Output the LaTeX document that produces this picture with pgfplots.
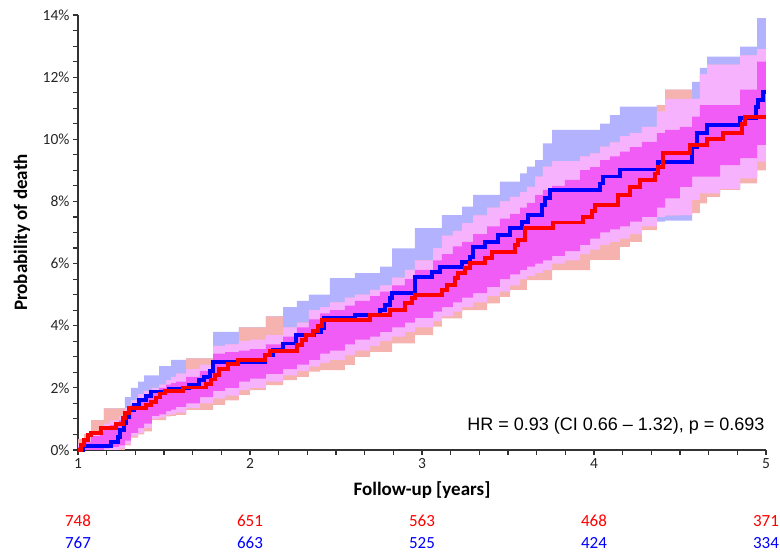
\documentclass[border=0pt]{standalone}
\usepackage{pgfplots}
\pgfplotsset{compat=1.18}
\usepackage{pgfplotstable}
\usepgfplotslibrary{fillbetween}
\usepackage{fontspec}
\setmainfont{Carlito}
\newfontfamily\arialf{Liberation Sans}

\definecolor{lav}{RGB}{178,178,255}
\definecolor{sal}{RGB}{245,178,174}
\definecolor{lpink}{RGB}{246,178,252}
\definecolor{mag}{RGB}{242,92,246}
\definecolor{kmred}{RGB}{255,0,0}
\definecolor{kmblue}{RGB}{0,0,255}
\definecolor{axgray}{RGB}{50,50,50}

% confidence regions: lavender (blue only), salmon (red only), pink (both), magenta (inner)
\pgfplotstableread{
x     lavlo lavhi sallo salhi pl   pu    ml   mu
1.000 0     0.35  0     0.35  0    0.2   0    0.1
1.035 0     0.5   0     0.5   0    0.35  0    0.25
1.076 0     0.96  0     0.96  0    0.55  0    0.45
1.128 0     0.96  0     0.96  0    0.75  0    0.6
1.151 0     1.34  0     1.34  0    0.85  0.05 0.7
1.186 0     1.34  0     1.34  0    0.95  0.1  0.8
1.238 0.05  1.34  0     1.34  0.05 1.1   0.15 0.95
1.273 0.2   1.7   0.15  1.35  0.2  1.35  0.3  1.2
1.308 0.45  2.0   0.4   1.6   0.45 1.6   0.55 1.45
1.349 0.55  2.2   0.5   1.8   0.55 1.8   0.7  1.65
1.384 0.7   2.4   0.6   1.9   0.7  1.9   0.85 1.8
1.430 1.0   2.4   0.96  2.0   1.0  2.0   1.1  1.9
1.471 1.05  2.7   0.96  2.1   1.05 2.1   1.15 2.0
1.512 1.13  2.7   1.08  2.25  1.13 2.25  1.25 2.1
1.541 1.15  2.9   1.1   2.35  1.15 2.35  1.3  2.15
1.570 1.2   2.9   1.13  2.46  1.2  2.46  1.39 2.2
1.628 1.35  2.95  1.29  2.95  1.35 2.6   1.5  2.35
1.709 1.5   2.95  1.29  2.95  1.5  2.75  1.7  2.55
1.785 1.65  3.8   1.45  3.35  1.65 3.35  1.9  3.1
1.855 1.75  3.8   1.6   3.4   1.75 3.4   2.0  3.15
1.936 1.93  3.95  1.77  3.95  1.93 3.5   2.2  3.2
2.000 2.0   3.95  1.93  3.95  2.0  3.55  2.3  3.25
2.093 2.2   4.3   2.09  4.3   2.2  3.7   2.45 3.4
2.192 2.4   4.6   2.25  3.95  2.4  3.95  2.6  3.65
2.273 2.55  4.8   2.35  4.1   2.55 4.1   2.75 3.95
2.343 2.68  5.0   2.52  4.5   2.68 4.5   2.9  4.2
2.407 2.8   5.0   2.57  4.6   2.8  4.6   3.1  4.4
2.465 2.9   5.53  2.57  4.75  2.9  4.75  3.2  4.5
2.552 3.05  5.53  2.74  4.9   3.05 4.9   3.4  4.65
2.610 3.2   5.69  3.0   5.0   3.2  5.0   3.55 4.8
2.698 3.35  5.69  3.16  5.15  3.35 5.15  3.65 4.95
2.756 3.5   5.9   3.16  5.3   3.5  5.3   3.8  5.1
2.826 3.65  6.49  3.43  5.55  3.65 5.55  3.95 5.3
2.901 3.8   6.49  3.43  5.8   3.8  5.8   4.1  5.5
2.959 3.95  7.14  3.7   6.1   3.95 6.1   4.25 5.8
3.064 4.15  7.14  3.97  6.5   4.15 6.5   4.45 6.1
3.116 4.3   7.56  4.24  6.9   4.3  6.9   4.6  6.3
3.180 4.45  7.56  4.24  7.05  4.45 7.05  4.75 6.55
3.233 4.6   7.83  4.5   7.3   4.6  7.3   4.9  6.7
3.297 4.75  8.21  4.5   7.55  4.75 7.55  5.05 6.95
3.378 4.95  8.21  4.72  7.8   4.95 7.8   5.25 7.2
3.453 5.1   8.64  4.93  8.0   5.1  8.0   5.5  7.45
3.512 5.3   8.64  5.15  8.15  5.3  8.15  5.65 7.6
3.570 5.5   8.9   5.15  8.3   5.5  8.3   5.8  7.8
3.610 5.6   9.12  5.47  8.47  5.6  8.47  5.9  7.95
3.657 5.7   9.33  5.47  8.8   5.7  8.8   6.0  8.2
3.703 5.8   9.87  5.47  9.12  5.8  9.12  6.1  8.37
3.756 6.0   10.3  5.79  9.3   6.0  9.3   6.25 8.5
3.831 6.1   10.3  5.79  9.3   6.1  9.3   6.4  8.69
3.919 6.3   10.3  5.79  9.45  6.3  9.45  6.6  9.01
3.977 6.45  10.3  6.12  9.55  6.45 9.55  6.8  9.1
4.035 6.6   10.5  6.12  9.76  6.6  9.76  7.0  9.33
4.093 6.7   10.78 6.12  9.9   6.7  9.9   7.1  9.45
4.151 6.8   11.05 6.54  10.1  6.8  10.1  7.2  9.6
4.209 6.95  11.05 6.7   10.2  6.95 10.2  7.35 9.75
4.279 7.2   11.05 7.08  10.4  7.2  10.4  7.5  9.92
4.366 7.35  11.1  7.5   11.1  7.5  10.9  7.8  10.2
4.413 7.38  11.6  7.55  11.6  7.55 11.3  8.1  10.3
4.500 7.38  11.6  7.56  11.6  7.56 11.3  8.47 10.4
4.570 8.05  11.85 7.62  11.3  8.05 11.3  8.8  10.73
4.616 8.26  12.3  7.94  12.1  8.26 12.1  8.8  11.1
4.657 8.26  12.66 8.15  12.4  8.26 12.4  8.8  11.1
4.733 8.4   12.66 8.37  12.4  8.4  12.4  9.17 11.1
4.849 8.74  12.98 8.58  12.7  8.74 12.7  9.39 11.6
4.948 9.28  13.9  9.0   12.9  9.28 12.9  9.82 12.5
5.000 9.28  13.9  9.0   12.9  9.28 12.9  9.82 12.5
}\bands

\pgfplotstableread{
x     y
1.000 0
1.029 0.12
1.192 0.27
1.233 0.43
1.244 0.64
1.267 0.86
1.279 1.07
1.297 1.28
1.326 1.45
1.355 1.61
1.395 1.73
1.424 1.88
1.529 1.98
1.645 2.10
1.703 2.25
1.733 2.36
1.767 2.55
1.785 2.84
2.087 3.06
2.134 3.22
2.192 3.43
2.267 3.70
2.372 3.81
2.413 3.91
2.430 4.24
2.610 4.35
2.756 4.51
2.785 4.67
2.814 4.89
2.826 5.04
2.959 5.58
3.058 5.74
3.105 5.88
3.233 6.06
3.279 6.22
3.297 6.54
3.366 6.70
3.442 6.92
3.512 7.14
3.581 7.35
3.616 7.56
3.698 7.89
3.715 8.10
3.744 8.37
4.035 8.58
4.052 8.80
4.151 9.03
4.372 9.28
4.570 9.76
4.599 10.19
4.657 10.47
4.849 10.69
4.942 11.05
4.953 11.26
4.983 11.53
5.000 11.53
}\blueline

\pgfplotstableread{
x     y
1.000 0
1.017 0.16
1.035 0.32
1.058 0.48
1.076 0.54
1.134 0.70
1.221 0.84
1.262 1.02
1.273 1.18
1.297 1.34
1.395 1.45
1.424 1.55
1.453 1.69
1.477 1.82
1.506 1.91
1.610 2.01
1.744 2.12
1.773 2.27
1.797 2.41
1.820 2.60
1.872 2.77
1.930 2.89
2.087 3.05
2.116 3.19
2.273 3.38
2.302 3.54
2.326 3.70
2.366 3.84
2.395 3.99
2.419 4.19
2.698 4.35
2.814 4.51
2.901 4.72
2.942 4.88
2.959 4.99
3.116 5.15
3.145 5.31
3.192 5.53
3.209 5.69
3.250 5.85
3.279 6.01
3.366 6.17
3.407 6.38
3.541 6.60
3.558 6.76
3.599 7.14
3.762 7.32
3.936 7.51
3.988 7.70
4.006 7.89
4.140 8.21
4.209 8.47
4.267 8.69
4.355 8.90
4.372 9.12
4.401 9.57
4.558 9.82
4.657 10.00
4.750 10.21
4.860 10.50
4.878 10.71
5.000 10.71
}\redline

\begin{document}
\begin{tikzpicture}
\begin{axis}[
  at={(0,0)}, anchor=south west,
  scale only axis, width=688pt, height=435pt,
  xmin=1, xmax=5, ymin=0, ymax=14,
  axis lines=left,
  axis line style={-, axgray, line width=1.1pt},
  tick style={axgray, line width=1.1pt},
  tick align=outside,
  major tick length=5pt, minor tick length=5pt,
  xtick={1,2,3,4,5}, xticklabels={1,2,3,4,5},
  minor x tick num=5,
  ytick={0,2,4,6,8,10,12,14},
  yticklabels={0\%,2\%,4\%,6\%,8\%,10\%,12\%,14\%},
  minor y tick num=3,
  ticklabel style={font=\fontsize{15.5}{18}\selectfont, text=black!85},
  label style={font=\bfseries\fontsize{19}{22}\selectfont},
  xlabel={Follow-up [years]},
  ylabel={Probability of death},
  xlabel style={at={([yshift=-40pt]axis description cs:0.5,0)}, anchor=center},
  ylabel style={at={([xshift=-56pt]axis description cs:0,0.5)}, anchor=center},
  clip=false,
]
% bands
\addplot[draw=none, const plot, name path=lavlo] table[x=x, y=lavlo]{\bands};
\addplot[draw=none, const plot, name path=lavhi] table[x=x, y=lavhi]{\bands};
\addplot[draw=none, const plot, name path=sallo] table[x=x, y=sallo]{\bands};
\addplot[draw=none, const plot, name path=salhi] table[x=x, y=salhi]{\bands};
\addplot[draw=none, const plot, name path=pl] table[x=x, y=pl]{\bands};
\addplot[draw=none, const plot, name path=pu] table[x=x, y=pu]{\bands};
\addplot[draw=none, const plot, name path=ml] table[x=x, y=ml]{\bands};
\addplot[draw=none, const plot, name path=mu] table[x=x, y=mu]{\bands};
\addplot[fill=lav, draw=none] fill between[of=lavhi and lavlo];
\addplot[fill=sal, draw=none] fill between[of=salhi and sallo];
\addplot[fill=lpink, draw=none] fill between[of=pu and pl];
\addplot[fill=mag, draw=none] fill between[of=mu and ml];
% survival curves
\addplot[kmblue, line width=3.8pt, const plot] table[x=x, y=y]{\blueline};
\addplot[kmred, line width=3.8pt, const plot] table[x=x, y=y]{\redline};

\node[anchor=east, font=\arialf\fontsize{18}{20}\selectfont] at ([xshift=2pt]axis cs:5,0.77) {HR = 0.93 (CI 0.66 – 1.32), p = 0.693};

% numbers at risk
\node[text=kmred, font=\fontsize{17}{19}\selectfont] at ([yshift=-71pt]axis cs:1,0) {748};
\node[text=kmred, font=\fontsize{17}{19}\selectfont] at ([yshift=-71pt]axis cs:2,0) {651};
\node[text=kmred, font=\fontsize{17}{19}\selectfont] at ([yshift=-71pt]axis cs:3,0) {563};
\node[text=kmred, font=\fontsize{17}{19}\selectfont] at ([yshift=-71pt]axis cs:4,0) {468};
\node[text=kmred, font=\fontsize{17}{19}\selectfont] at ([yshift=-71pt]axis cs:5,0) {371};
\node[text=kmblue, font=\fontsize{17}{19}\selectfont] at ([yshift=-93pt]axis cs:1,0) {767};
\node[text=kmblue, font=\fontsize{17}{19}\selectfont] at ([yshift=-93pt]axis cs:2,0) {663};
\node[text=kmblue, font=\fontsize{17}{19}\selectfont] at ([yshift=-93pt]axis cs:3,0) {525};
\node[text=kmblue, font=\fontsize{17}{19}\selectfont] at ([yshift=-93pt]axis cs:4,0) {424};
\node[text=kmblue, font=\fontsize{17}{19}\selectfont] at ([yshift=-93pt]axis cs:5,0) {334};
\end{axis}
\pgfresetboundingbox
\useasboundingbox (-78pt,-106pt) rectangle (702pt,450pt);
\end{tikzpicture}
\end{document}
